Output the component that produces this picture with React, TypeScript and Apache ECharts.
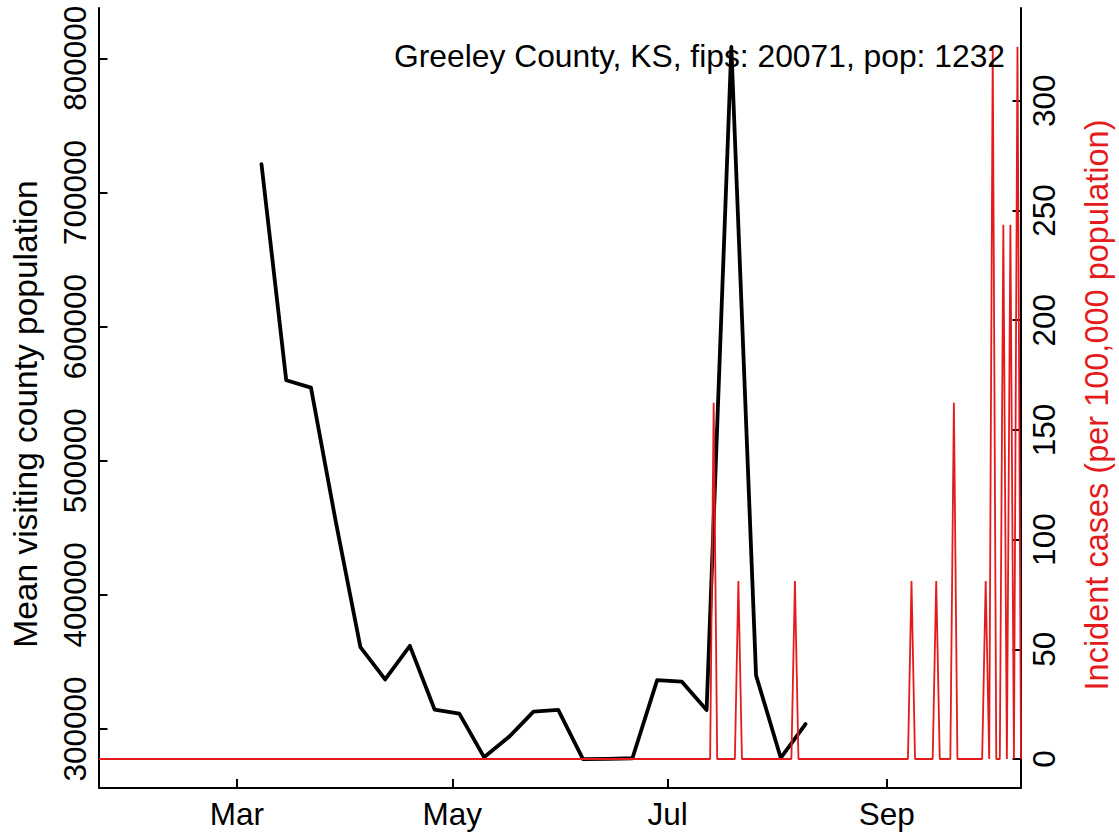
import React, { useEffect, useRef } from "react";
import * as echarts from "echarts";

// ---- Data ----
const visitDates = [
  "2020-03-08", "2020-03-15", "2020-03-22", "2020-03-29", "2020-04-05", "2020-04-12",
  "2020-04-19", "2020-04-26", "2020-05-03", "2020-05-10", "2020-05-17", "2020-05-24",
  "2020-05-31", "2020-06-07", "2020-06-14", "2020-06-21", "2020-06-28", "2020-07-05",
  "2020-07-12", "2020-07-19", "2020-07-26", "2020-08-02", "2020-08-09",
];
const visitValues = [
  721000, 560000, 554500, 455000, 361000, 337000,
  362000, 314500, 311500, 279000, 294000, 313000,
  314200, 277600, 277700, 278200, 336400, 335300,
  314200, 808400, 340000, 278400, 303700,
];

const caseStart = "2020-01-22";
const caseEnd = "2020-10-09";
const caseDates = [
  "2020-07-14", "2020-07-21", "2020-08-06", "2020-09-08", "2020-09-15", "2020-09-20",
  "2020-09-29", "2020-10-01", "2020-10-04", "2020-10-06", "2020-10-08",
];
const caseValues = [162.34, 81.17, 81.17, 81.17, 81.17, 162.34, 81.17, 324.68, 243.51, 243.51, 324.68];

const xTickDates = ["2020-03-01", "2020-05-01", "2020-07-01", "2020-09-01"];
const xTickLabels = ["Mar", "May", "Jul", "Sep"];
const leftTicks = [300000, 400000, 500000, 600000, 700000, 800000];
const rightTicks = [0, 50, 100, 150, 200, 250, 300];

const titleText = "Greeley County, KS, fips: 20071, pop: 1232";
const leftName = "Mean visiting county population";
const rightName = "Incident cases (per 100,000 population)";

const DAY = 86400000;
function toTime(s: string): number {
  const [y, m, d] = s.split("-").map(Number);
  return Date.UTC(y, m - 1, d);
}
// day index measured from the first date of the case series
function dayIndex(s: string): number {
  return Math.round((toTime(s) - toTime(caseStart)) / DAY);
}

export default function App() {
  const ref = useRef<HTMLDivElement>(null);

  useEffect(() => {
    if (!ref.current) return;
    const chart = echarts.init(ref.current, null, { renderer: "svg" });

    const FONT = "'Liberation Sans', Arial, Helvetica, sans-serif";
    const FS = 31.5;
    const RED = "#E41A1C";

    const blackData = visitDates.map((d, i) => [dayIndex(d), visitValues[i]]);

    const caseMap: Record<number, number> = {};
    caseDates.forEach((d, i) => {
      caseMap[dayIndex(d)] = caseValues[i];
    });
    const lastDay = dayIndex(caseEnd);
    const redData: [number, number][] = [];
    for (let i = 0; i <= lastDay; i++) {
      redData.push([i, caseMap[i] ?? 0]);
    }

    const xTicks = xTickDates.map(dayIndex);
    const plain = (v: number) => String(Math.round(v));

    chart.setOption({
      animation: false,
      backgroundColor: "#ffffff",
      textStyle: { fontFamily: FONT },
      grid: {
        left: 99,
        right: 98,
        top: 8,
        bottom: 44.5,
        containLabel: false,
        outerBoundsMode: "none",
      },
      xAxis: {
        type: "value",
        min: 0,
        max: lastDay,
        axisLine: { show: true, onZero: false, lineStyle: { color: "#000", width: 2 } },
        axisTick: {
          show: true,
          inside: true,
          length: 8.5,
          customValues: xTicks,
          lineStyle: { color: "#000", width: 2 },
        },
        axisLabel: {
          show: true,
          customValues: xTicks,
          fontSize: FS,
          fontFamily: FONT,
          color: "#000",
          margin: 10,
          showMinLabel: true,
          showMaxLabel: true,
          formatter: (v: number) => {
            const idx = xTicks.indexOf(Math.round(v));
            return idx >= 0 ? xTickLabels[idx] : "";
          },
        },
        splitLine: { show: false },
      },
      yAxis: [
        {
          type: "value",
          position: "left",
          min: 256400,
          max: 837470,
          axisLine: { show: true, onZero: false, lineStyle: { color: "#000", width: 2 } },
          axisTick: {
            show: true,
            inside: true,
            length: 8.5,
            customValues: leftTicks,
            lineStyle: { color: "#000", width: 2 },
          },
          axisLabel: {
            show: true,
            customValues: leftTicks,
            rotate: 90,
            fontSize: FS,
            fontFamily: FONT,
            color: "#000",
            margin: 24,
            align: "center",
            verticalAlign: "middle",
            formatter: plain,
          },
          splitLine: { show: false },
        },
        {
          type: "value",
          position: "right",
          min: -12.99,
          max: 342.3,
          axisLine: { show: true, onZero: false, lineStyle: { color: "#000", width: 2 } },
          axisTick: {
            show: true,
            inside: true,
            length: 8.5,
            customValues: rightTicks,
            lineStyle: { color: "#000", width: 2 },
          },
          axisLabel: {
            show: true,
            customValues: rightTicks,
            rotate: 90,
            fontSize: FS,
            fontFamily: FONT,
            color: "#000",
            margin: 23,
            align: "center",
            verticalAlign: "middle",
            formatter: plain,
          },
          splitLine: { show: false },
        },
      ],
      series: [
        {
          type: "line",
          name: "visits",
          yAxisIndex: 0,
          data: blackData,
          showSymbol: false,
          symbol: "none",
          lineStyle: { color: "#000", width: 3.8, join: "round", cap: "round" },
          z: 2,
        },
        {
          type: "line",
          name: "cases",
          yAxisIndex: 1,
          data: redData,
          showSymbol: false,
          symbol: "none",
          lineStyle: { color: RED, width: 1.8 },
          z: 3,
        },
      ],
      graphic: [
        {
          type: "text",
          right: 1119 - 1005,
          top: 40,
          style: {
            text: titleText,
            fontSize: 31.8,
            fontFamily: FONT,
            fill: "#000",
          },
          z: 10,
        },
        {
          type: "text",
          x: 25,
          y: 414,
          rotation: Math.PI / 2,
          style: {
            text: leftName,
            fontSize: 33.5,
            fontFamily: FONT,
            fill: "#000",
            align: "center",
            verticalAlign: "middle",
          },
          z: 10,
        },
        {
          type: "text",
          x: 1097,
          y: 405,
          rotation: Math.PI / 2,
          style: {
            text: rightName,
            fontSize: 32.5,
            fontFamily: FONT,
            fill: RED,
            align: "center",
            verticalAlign: "middle",
          },
          z: 10,
        },
      ],
    });

    return () => {
      chart.dispose();
    };
  }, []);

  return (
    <div
      ref={ref}
      style={{ position: "absolute", left: 0, top: 0, width: 1119, height: 832, background: "#fff" }}
    />
  );
}
